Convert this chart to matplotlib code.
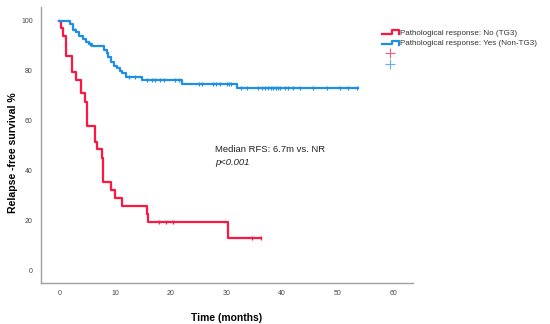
import numpy as np
import matplotlib
matplotlib.use("Agg")
import matplotlib.pyplot as plt
from matplotlib.lines import Line2D
from matplotlib.legend_handler import HandlerBase

plt.rcParams["font.family"] = ["Liberation Sans", "DejaVu Sans"]

RED = "#ff1744"
BLUE = "#1e8ee6"

# Pathological response: No (TG3)
red_times = [0, 0.3, 0.7, 1.2, 2.2, 3.0, 3.9, 4.6, 4.9, 6.4, 6.7, 7.6, 7.9,
             9.2, 10.0, 11.2, 15.7, 15.9, 30.2]
red_surv = [100, 97, 94, 86, 79.5, 76.3, 71, 67.5, 58, 51.6, 48.6, 45, 35.6,
            32.3, 29, 25.8, 22.6, 19.6, 13]
red_end = 36.2
red_censor = [17.8, 19.1, 20.4, 34.6, 36.2]

# Pathological response: Yes (Non-TG3)
blue_times = [0, 1.9, 2.4, 3.0, 3.6, 4.3, 4.8, 5.3, 5.8, 8.1, 8.5, 8.8, 9.2,
              9.8, 10.3, 10.8, 11.3, 11.9, 14.9, 22.1, 31.9]
blue_surv = [100, 98.8, 96.5, 95.6, 94, 92.7, 91.6, 90.6, 90, 88.5, 87, 85.5,
             83.6, 82, 81, 80, 79, 77.5, 76.2, 74.8, 73]
blue_end = 53.7
blue_censor = [2.8, 5.5, 12.5, 13.5, 15.7, 16.6, 17.2, 18.1, 18.7, 20.8, 21.5,
               25.1, 25.6, 27.6, 28.1, 28.9, 30.1, 30.5, 30.9, 32.6, 33.6,
               35.7, 36.3, 36.9, 37.5, 38.0, 38.4, 38.9, 39.3, 39.7, 40.5,
               41.1, 42.0, 43.2, 45.6, 48.0, 50.4, 51.9, 53.4]

x_ticks = [0, 10, 20, 30, 40, 50, 60]
y_ticks = [0, 20, 40, 60, 80, 100]


class StepHandler(HandlerBase):
    # small step-shaped icon like SPSS survival legends
    def create_artists(self, legend, orig_handle, xdescent, ydescent,
                       width, height, fontsize, trans):
        xs = np.array([0, 0.62, 0.62, 1.0, 1.0]) * width - xdescent
        ys = np.array([0.15, 0.15, 0.85, 0.85, 0.1]) * height - ydescent
        ln = Line2D(xs, ys, color=orig_handle.get_color(),
                    lw=orig_handle.get_linewidth(), transform=trans)
        return [ln]


def km_line(ax, times, surv, end, censor, color):
    t = list(times) + [end]
    s = list(surv) + [surv[-1]]
    ax.step(t, s, where="post", color=color, lw=1.6, zorder=3)
    idx = np.searchsorted(times, censor, side="right") - 1
    cs = np.array(surv)[idx]
    ax.plot(censor, cs, ls="none", marker="|", ms=3.5, mew=0.9,
            color=color, zorder=4)


fig = plt.figure(figsize=(5.5, 3.24), dpi=100)
ax = fig.add_axes([0.0745, 0.1256, 0.6765, 0.8524])

km_line(ax, red_times, red_surv, red_end, red_censor, RED)
km_line(ax, blue_times, blue_surv, blue_end, blue_censor, BLUE)

ax.set_xlim(-3.3, 63.5)
ax.set_ylim(-5, 105.5)
ax.set_xticks(x_ticks)
ax.set_yticks(y_ticks)
ax.tick_params(length=0, labelsize=5, labelcolor="#444444")
ax.tick_params(axis="y", pad=6)
ax.tick_params(axis="x", pad=5)
for side in ["top", "right"]:
    ax.spines[side].set_visible(False)
for side in ["left", "bottom"]:
    ax.spines[side].set_color("#a0a0a0")
    ax.spines[side].set_linewidth(1.0)

ax.set_xlabel("Time (months)", fontsize=7.4, fontweight="bold")
ax.xaxis.set_label_coords(0.5, -0.107)
ax.set_ylabel("Relapse -free survival %", fontsize=7.6, fontweight="bold")
ax.yaxis.set_label_coords(-0.062, 0.472)

ax.text(27.9, 47.5, "Median RFS: 6.7m vs. NR", fontsize=6.8, color="#222222")
ax.text(27.9, 42.2, "p<0.001", fontsize=6.8, style="italic", color="#222222")

h_red = Line2D([], [], color=RED, lw=1.6)
h_blue = Line2D([], [], color=BLUE, lw=1.6)
c_red = Line2D([], [], color=RED, ls="none", marker="+", ms=7, mew=0.8,
               alpha=0.7)
c_blue = Line2D([], [], color=BLUE, ls="none", marker="+", ms=7, mew=0.8,
                alpha=0.7)
leg = fig.legend([h_red, h_blue, c_red, c_blue],
                 ["Pathological response: No (TG3)",
                  "Pathological response: Yes (Non-TG3)", " ", " "],
                 handler_map={h_red: StepHandler(), h_blue: StepHandler()},
                 loc="upper left", bbox_to_anchor=(0.685, 0.928),
                 frameon=False, fontsize=5.8, handlelength=2.0,
                 handletextpad=0.2, labelspacing=0.38, borderpad=0.2)
for t in leg.get_texts():
    t.set_color("#333333")

fig.savefig("out.png", dpi=100)
